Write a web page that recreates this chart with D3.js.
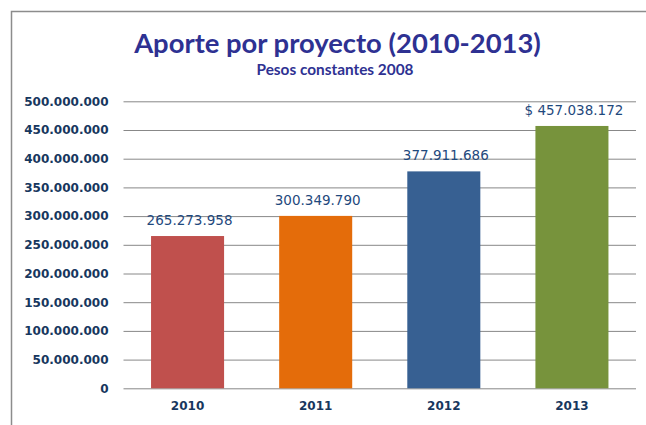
<!DOCTYPE html>
<html><head><meta charset="utf-8">
<script src="https://cdn.jsdelivr.net/npm/d3@7/dist/d3.min.js"></script>
<style>html,body{margin:0;padding:0;background:#fff;}svg{display:block;}</style>
</head><body>
<svg id="chart" width="646" height="425"></svg>
<script>
const categories = ["2010", "2011", "2012", "2013"];
const values = [265273958, 300349790, 377911686, 457038172];
const valueLabels = ["265.273.958", "300.349.790", "377.911.686", "$ 457.038.172"];
const barColors = ["#C0504D", "#E46C0A", "#376092", "#77933C"];
const yTicks = [0, 50000000, 100000000, 150000000, 200000000, 250000000, 300000000, 350000000, 400000000, 450000000, 500000000];
const titleText = "Aporte por proyecto (2010-2013)";
const subtitleText = "Pesos constantes 2008";

const svg = d3.select("#chart");
const W = 646, H = 425;
const plot = {left: 123.5, right: 636, top: 101.3, bottom: 388.3};

// frame (left + top edges visible)
svg.append("path").attr("d", `M11.5,${H} V11.5 H${W}`)
  .attr("fill", "none").attr("stroke", "#8c8c8c").attr("stroke-width", 1.5);

const x = d3.scaleBand().domain(categories).range([plot.left, plot.right]).paddingInner(0.43).paddingOuter(0.215);
const y = d3.scaleLinear().domain([0, 500000000]).range([plot.bottom, plot.top]);

const fmt = d => d === 0 ? "0" : d3.format(",")(d).replace(/,/g, ".");

// gridlines + y labels via axis
const yAxis = d3.axisLeft(y).tickValues(yTicks).tickFormat(fmt)
  .tickSize(-(plot.right - plot.left)).tickPadding(15);
const gy = svg.append("g").attr("transform", `translate(${plot.left},0)`).call(yAxis);
gy.select(".domain").remove();
gy.selectAll(".tick line").attr("stroke", "#888").attr("stroke-width", 1);
gy.selectAll(".tick text").attr("font-family", "DejaVu Sans").attr("font-weight", "bold")
  .attr("font-size", 12).attr("fill", "#17375E");

// bars
svg.append("g").selectAll("rect").data(values).join("rect")
  .attr("x", (d, i) => x(categories[i]))
  .attr("y", d => y(d))
  .attr("width", x.bandwidth())
  .attr("height", d => y(0) - y(d))
  .attr("fill", (d, i) => barColors[i]);

// value labels
svg.append("g").selectAll("text").data(values).join("text")
  .attr("x", (d, i) => x(categories[i]) + x.bandwidth() / 2 + 2)
  .attr("y", d => y(d) - 11)
  .attr("text-anchor", "middle")
  .attr("font-family", "DejaVu Sans").attr("font-size", 13.5)
  .attr("fill", "#1F497D")
  .text((d, i) => valueLabels[i]);

// x labels
const xAxis = d3.axisBottom(x).tickSize(0).tickPadding(13);
const gx = svg.append("g").attr("transform", `translate(0,${plot.bottom})`).call(xAxis);
gx.select(".domain").remove();
gx.selectAll(".tick text").attr("font-family", "DejaVu Sans").attr("font-weight", "bold")
  .attr("font-size", 12).attr("fill", "#17375E");

// title
function fitText(sel, target) {
  const w = sel.node().getComputedTextLength();
  const fs = parseFloat(sel.attr("font-size"));
  sel.attr("font-size", fs * target / w);
}
const title = svg.append("text").attr("x", 337.5).attr("y", 52.5).attr("text-anchor", "middle")
  .attr("font-family", "Lato").attr("font-weight", "bold").attr("font-size", 26)
  .attr("fill", "#2E3192").text(titleText);
fitText(title, 407);
const sub = svg.append("text").attr("x", 335).attr("y", 75).attr("text-anchor", "middle")
  .attr("font-family", "Lato").attr("font-weight", "bold").attr("font-size", 12)
  .attr("fill", "#2E3192").text(subtitleText);
fitText(sub, 157);
</script>
</body></html>
